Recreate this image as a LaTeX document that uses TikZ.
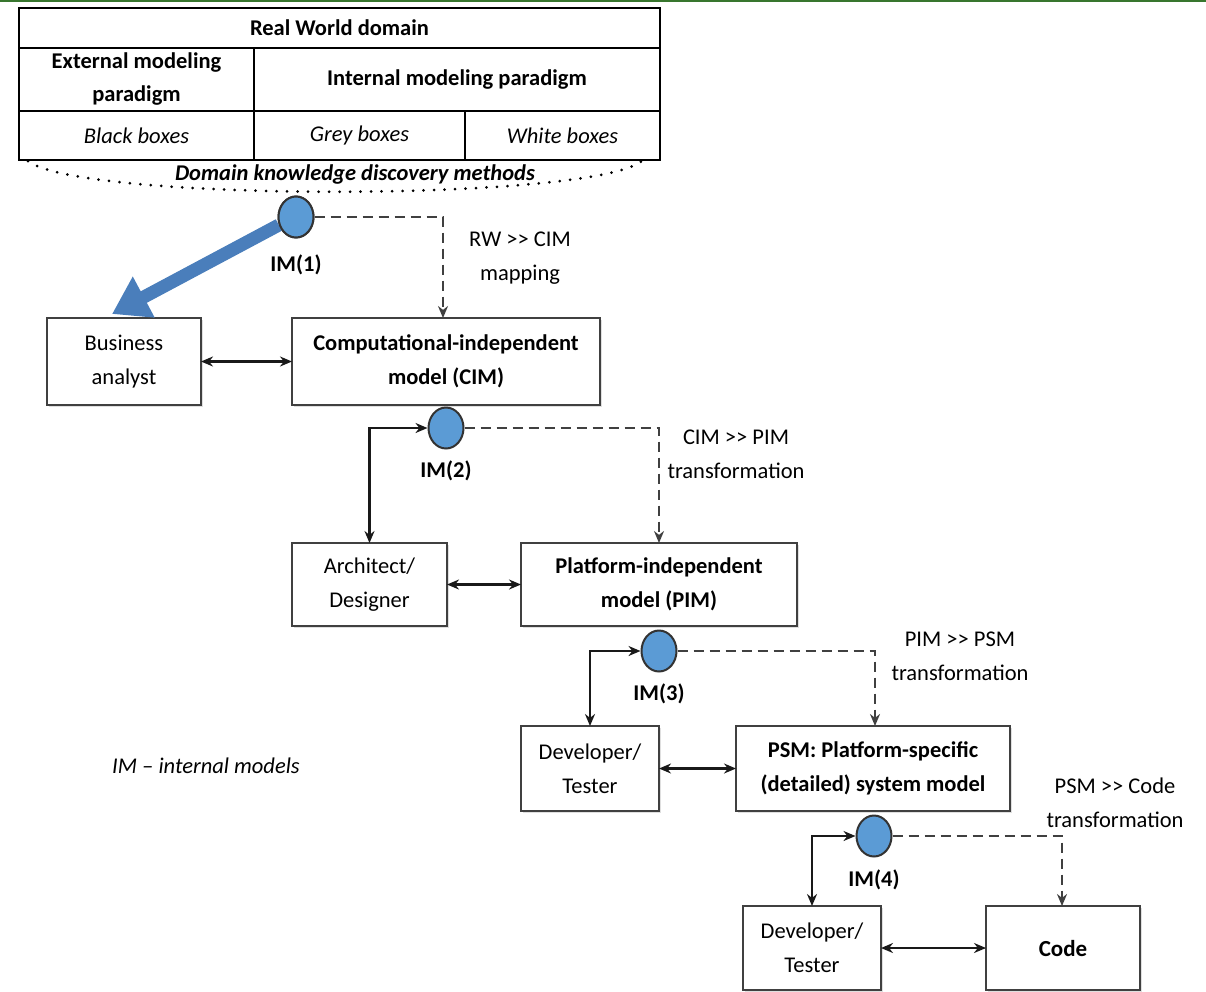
\documentclass[tikz,border=0pt]{standalone}
\usepackage{fontspec}
\setmainfont{Carlito}
\usetikzlibrary{arrows.meta,shapes.geometric,shadows}
\definecolor{imblue}{RGB}{91,155,213}
\definecolor{bigarrow}{RGB}{74,126,187}
\definecolor{topgreen}{RGB}{56,118,46}
\definecolor{boxline}{RGB}{64,64,64}
\newcommand{\dblgt}{>\kern0pt>}
\begin{document}
\begin{tikzpicture}[x=1pt,y=-1pt,
  txt/.style={font=\fontsize{22.5}{34}\selectfont, align=center, inner sep=0pt},
  cell/.style={draw=black, line width=1.8pt, inner sep=0pt, outer sep=0pt, txt},
  box/.style={draw=boxline, line width=2pt, fill=white, inner sep=0pt, outer sep=0pt, txt,
    drop shadow={shadow xshift=1.5pt, shadow yshift=-1.5pt, fill=black!25}},
  imnode/.style={ellipse, draw=black!80, line width=2pt, fill=imblue, minimum width=35pt, minimum height=41pt, inner sep=0pt},
  imlabel/.style={txt, font=\fontsize{22.5}{34}\selectfont\bfseries},
  dashconn/.style={draw=black!75, line width=1.8pt, dash pattern=on 10pt off 6pt, -{Stealth[length=12pt,width=10pt]}},
  solidconn/.style={draw=black!90, line width=2.2pt, {Stealth[length=12pt,width=10pt]}-{Stealth[length=12pt,width=10pt]}}
]
\useasboundingbox (0,0) rectangle (1206,991);
\draw[topgreen, line width=2.5pt] (0,0.5) -- (1206,0.5);

% table
\node[cell, minimum width=641pt, minimum height=40pt, font=\fontsize{22.5}{34}\selectfont\bfseries] (rw) at (339.5,28) {Real World domain};
\node[cell, minimum width=235pt, minimum height=63pt, font=\fontsize{22.5}{33}\selectfont\bfseries] (ext) at (136.5,79.5) {External modeling\\paradigm};
\node[cell, minimum width=406pt, minimum height=63pt, font=\fontsize{22.5}{34}\selectfont\bfseries] (int) at (457,79.5) {Internal modeling paradigm};
\node[cell, minimum width=235pt, minimum height=49pt, font=\fontsize{22.5}{34}\selectfont\itshape] (black) at (136.5,135.5) {Black boxes};
\node[cell, minimum width=211pt, minimum height=49pt, font=\fontsize{22.5}{34}\selectfont\itshape] (grey) at (359.5,135.5) {Grey boxes};
\node[cell, minimum width=195pt, minimum height=49pt, font=\fontsize{22.5}{34}\selectfont\itshape] (white) at (562.5,135.5) {White boxes};

% dotted arc and methods label
\coordinate (arcL) at (28,161);
\coordinate (arcR) at (642,161);
\draw[line width=3pt, line cap=round, dash pattern=on 0pt off 10.5pt] (arcL) .. controls (80,202) and (590,202) .. (arcR);
\node[txt, font=\fontsize{22.5}{34}\selectfont\bfseries\itshape] (dk) at (355,174) {Domain knowledge discovery methods};

% boxes
\node[box, minimum width=154pt, minimum height=87pt] (ba) at (124,361.5) {Business\\analyst};
\node[box, minimum width=308pt, minimum height=87pt, font=\fontsize{22.5}{34}\selectfont\bfseries] (cim) at (446,361.5) {Computational-independent\\model (CIM)};
\node[box, minimum width=155pt, minimum height=83pt] (arch) at (369.5,584.5) {Architect/\\Designer};
\node[box, minimum width=276pt, minimum height=83pt, font=\fontsize{22.5}{34}\selectfont\bfseries] (pim) at (659,584.5) {Platform-independent\\model (PIM)};
\node[box, minimum width=138pt, minimum height=85pt] (dev1) at (590,768.5) {Developer/\\Tester};
\node[box, minimum width=274pt, minimum height=85pt, font=\fontsize{22.5}{34}\selectfont\bfseries] (psm) at (873,768.5) {PSM: Platform-specific\\(detailed) system model};
\node[box, minimum width=138pt, minimum height=84pt] (dev2) at (812,948) {Developer/\\Tester};
\node[box, minimum width=154pt, minimum height=84pt, font=\fontsize{23}{34}\selectfont\bfseries] (code) at (1063,948) {Code};

% internal model circles
\node[imnode] (im1) at (296,217) {};
\node[imnode] (im2) at (446,428) {};
\node[imnode] (im3) at (659,651) {};
\node[imnode] (im4) at (874,836) {};

% big blue arrow
\draw[bigarrow, line width=13pt, -{Triangle[length=36pt,width=44pt]}] (im1.205) -- ([xshift=-12pt,yshift=4pt]ba.north);
\node[imnode] at (im1) {};

% IM labels
\node[imlabel] (l1) at (296,265) {IM(1)};
\node[imlabel] (l2) at (446,471) {IM(2)};
\node[imlabel] (l3) at (659,694) {IM(3)};
\node[imlabel] (l4) at (874,880) {IM(4)};

% transformation labels
\node[txt] (t1) at (520,258) {RW \dblgt{} CIM\\mapping};
\node[txt] (t2) at (736,454) {CIM \dblgt{} PIM\\transformation};
\node[txt] (t3) at (960,656) {PIM \dblgt{} PSM\\transformation};
\node[txt] (t4) at (1115,803) {PSM \dblgt{} Code\\transformation};

\node[txt, font=\fontsize{22.5}{34}\selectfont\itshape] (legend) at (206,766) {IM -- internal models};

% dashed transformation connectors
\draw[dashconn] (im1.east) -| ([xshift=-3pt]cim.north);
\draw[dashconn] (im2.east) -| (pim.north);
\draw[dashconn] (im3.east) -| ([xshift=2pt]psm.north);
\draw[dashconn] (im4.east) -| ([xshift=-1pt]code.north);

% solid role connectors
\draw[solidconn] (arch.north) |- (im2.west);
\draw[solidconn] (dev1.north) |- (im3.west);
\draw[solidconn] (dev2.north) |- (im4.west);
\draw[solidconn] (ba.east) -- (cim.west);
\draw[solidconn] (arch.east) -- (pim.west);
\draw[solidconn] (dev1.east) -- (psm.west);
\draw[solidconn] (dev2.east) -- (code.west);
\end{tikzpicture}
\end{document}
